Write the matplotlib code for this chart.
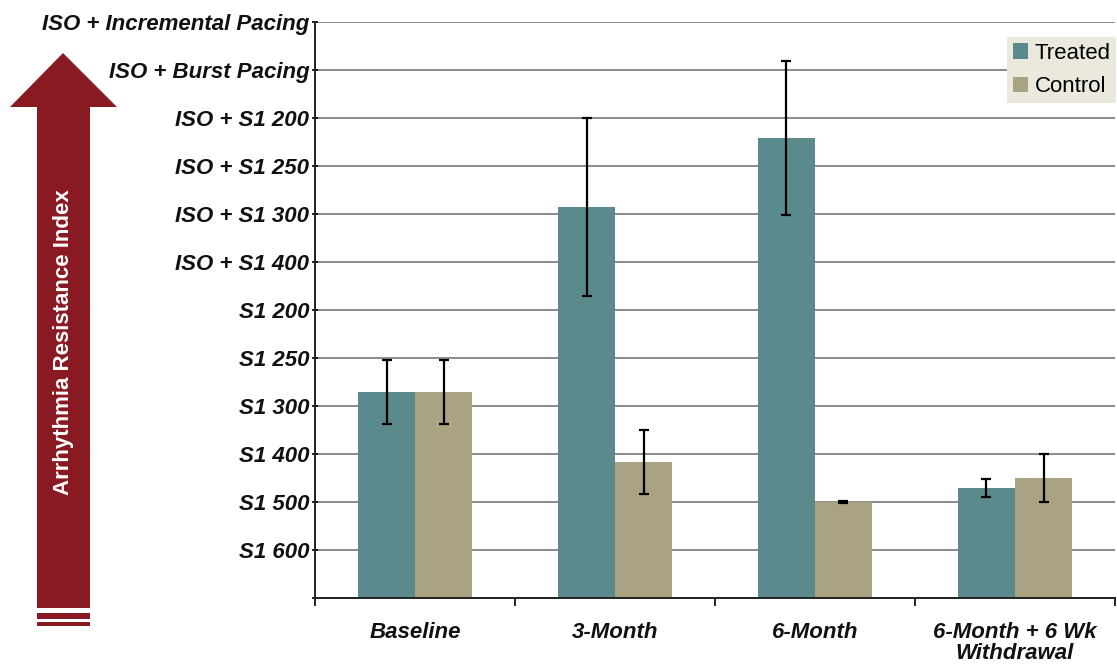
import numpy as np
import matplotlib.pyplot as plt
from matplotlib.patches import Polygon, Rectangle

# y axis is an ordinal index of protocol severity
levels = ["", "S1 600", "S1 500", "S1 400", "S1 300", "S1 250", "S1 200",
          "ISO + S1 400", "ISO + S1 300", "ISO + S1 250", "ISO + S1 200",
          "ISO + Burst Pacing", "ISO + Incremental Pacing"]
groups = ["Baseline", "3-Month", "6-Month", "6-Month + 6 Wk\nWithdrawal"]
treated = [4.29, 8.15, 9.58, 2.29]
treated_err = [0.66, 1.85, 1.6, 0.18]
control = [4.29, 2.83, 2.0, 2.5]
control_err = [0.66, 0.66, 0.02, 0.49]

TEAL = "#5b8a8c"
KHAKI = "#aaa383"
RED = "#8a1a22"
FONT = ["Liberation Sans", "DejaVu Sans"]

W, H = 1117, 666
fig = plt.figure(figsize=(W / 100, H / 100), dpi=100)
ax = fig.add_axes([315 / W, 68 / H, 800 / W, 576 / H])

x = np.arange(len(groups))
bw = 0.285
ax.bar(x - bw / 2, treated, bw, color=TEAL, label="Treated", zorder=2)
ax.bar(x + bw / 2, control, bw, color=KHAKI, label="Control", zorder=2)
ax.errorbar(x - bw / 2, treated, yerr=treated_err, fmt="none", ecolor="black",
            elinewidth=1.6, capsize=3.5, capthick=1.6, zorder=3)
ax.errorbar(x + bw / 2, control, yerr=control_err, fmt="none", ecolor="black",
            elinewidth=1.6, capsize=3.5, capthick=1.6, zorder=3)

ax.set_xlim(-0.5, len(groups) - 0.5)
ax.set_ylim(0, len(levels) - 1)
ax.set_yticks(np.arange(len(levels)))
ax.set_yticklabels(levels, family=FONT, fontsize=16, fontweight="bold",
                   fontstyle="italic", color="#111111")
ax.set_xticks(x)
ax.set_xticklabels(groups, family=FONT, fontsize=16, fontweight="bold",
                   fontstyle="italic", color="#111111", linespacing=1.0)
ax.set_xticks(np.arange(len(groups) + 1) - 0.5, minor=True)
ax.tick_params(axis="x", which="major", length=0, pad=17)
ax.tick_params(axis="x", which="minor", length=6, width=1.2, direction="out")
ax.tick_params(axis="y", length=4, width=1.2, direction="inout", pad=2)
ax.yaxis.grid(True, color="#8a8a8a", linewidth=1.4, zorder=0)
ax.set_axisbelow(True)
for s in ["top", "right"]:
    ax.spines[s].set_visible(False)
for s in ["left", "bottom"]:
    ax.spines[s].set_linewidth(1.4)
    ax.spines[s].set_color("#222222")

leg = ax.legend(loc="upper right", bbox_to_anchor=(1.01, 0.985), frameon=True,
                fancybox=False, handlelength=0.7, handleheight=0.7,
                handletextpad=0.3, borderpad=0.25, labelspacing=0.55,
                borderaxespad=0.3, prop={"family": FONT, "size": 16})
leg.get_frame().set_facecolor("#ebe8de")
leg.get_frame().set_edgecolor("none")
leg.get_frame().set_alpha(1)

# decorative arrow on the left, in pixel coordinates
ov = fig.add_axes([0, 0, 1, 1], zorder=-1)
ov.set_xlim(0, W)
ov.set_ylim(H, 0)
ov.axis("off")
ov.add_patch(Polygon([(37, 608), (37, 107), (10, 107), (63, 53), (117, 107),
                      (90, 107), (90, 608)], closed=True, color=RED, lw=0))
ov.add_patch(Rectangle((37, 613), 53, 6, color=RED, lw=0))
ov.add_patch(Rectangle((37, 622), 53, 4, color=RED, lw=0))
ov.text(64, 342, "Arrhythmia Resistance Index", rotation=90, color="white",
        ha="center", va="center", family=FONT, fontsize=16, fontweight="bold")

fig.savefig("out.png", dpi=100)
